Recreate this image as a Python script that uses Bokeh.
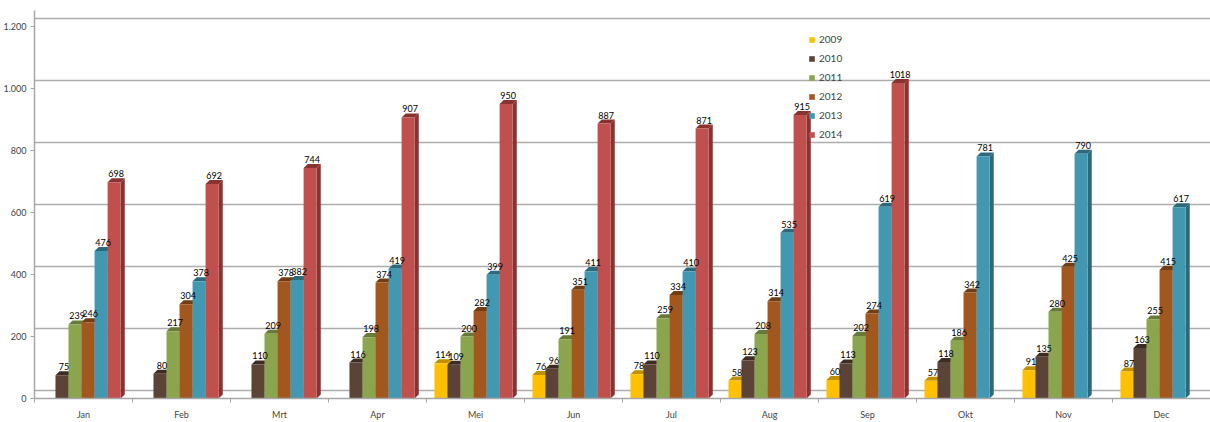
import math
from bokeh.plotting import figure
from bokeh.models import (Range1d, FixedTicker, Grid, Legend, LegendItem,
                          ColumnDataSource)
from bokeh.core.properties import value
from bokeh.embed import file_html
from bokeh.resources import INLINE

months = ["Jan", "Feb", "Mrt", "Apr", "Mei", "Jun", "Jul", "Aug", "Sep", "Okt", "Nov", "Dec"]
years = ["2009", "2010", "2011", "2012", "2013", "2014"]
nan = float("nan")
v2009 = [nan, nan, nan, nan, 114, 76, 78, 58, 60, 57, 91, 87]
v2010 = [75, 80, 110, 116, 109, 96, 110, 123, 113, 118, 135, 163]
v2011 = [239, 217, 209, 198, 200, 191, 259, 208, 202, 186, 280, 255]
v2012 = [246, 304, 378, 374, 282, 351, 334, 314, 274, 342, 425, 415]
v2013 = [476, 378, 382, 419, 399, 411, 410, 535, 619, 781, 790, 617]
v2014 = [698, 692, 744, 907, 950, 887, 871, 915, 1018, nan, nan, nan]
series = [v2009, v2010, v2011, v2012, v2013, v2014]
y_ticks = [0, 200, 400, 600, 800, 1000, 1200]

front_colors = ["#FFC000", "#5B4337", "#8BA54E", "#A2571F", "#4298B0", "#C0504D"]
dark_colors = ["#C09000", "#3D2C24", "#677A38", "#733D14", "#2C6A7B", "#8A3230"]

FONT = "Lato"
p = figure(width=1210, height=422, x_range=Range1d(-0.5, 11.5), y_range=Range1d(0, 1252),
           output_backend="svg", toolbar_location=None,
           min_border_left=34, min_border_right=0, min_border_top=10, min_border_bottom=18)
p.outline_line_color = None
p.background_fill_color = "white"
p.border_fill_color = "white"
p.xgrid.visible = False
p.ygrid.visible = False

p.extra_y_ranges = {"back": Range1d(-27, 1225)}
p.add_layout(Grid(dimension=1, ticker=FixedTicker(ticks=y_ticks), y_range_name="back",
                  grid_line_color="#ADADAD", grid_line_width=1.4))

bw = 0.133
dx = 0.042
dy = 13.0
n = len(series)
legend_items = []
label_sources = []
for j, vals in enumerate(series):
    xs, ys, labs = [], [], []
    side_x, side_y, top_x, top_y = [], [], [], []
    for i, v in enumerate(vals):
        if isinstance(v, float) and math.isnan(v):
            continue
        xc = i + (j - (n - 1) / 2) * bw - 0.02
        x0, x1 = xc - bw / 2, xc + bw / 2
        xs.append(xc)
        ys.append(v)
        labs.append(str(v))
        side_x.append([x1, x1 + dx, x1 + dx, x1])
        side_y.append([0, dy, v + dy, v])
        top_x.append([x0, x1, x1 + dx, x0 + dx])
        top_y.append([v, v, v + dy, v + dy])
    p.patches(side_x, side_y, fill_color=dark_colors[j], line_color=None)
    p.patches(top_x, top_y, fill_color=dark_colors[j], line_color=None)
    src = ColumnDataSource(dict(x=xs, top=ys, lab=labs))
    r = p.vbar(x="x", top="top", bottom=0, width=bw, source=src,
               fill_color=front_colors[j], line_color=None)
    legend_items.append(LegendItem(label=years[j], renderers=[r]))
    label_sources.append(src)

for src in label_sources:
    p.text(x="x", y="top", text="lab", source=src, x_offset=2, y_offset=-5,
           text_align="center", text_baseline="bottom", text_font=value(FONT),
           text_font_size="9px", text_color="black")

# axes
yax = p.yaxis[0]
yax.ticker = FixedTicker(ticks=y_ticks)
yax.major_label_overrides = {1000: "1.000", 1200: "1.200"}
yax.axis_line_color = "#A6A6A6"
yax.axis_line_width = 1.5
yax.major_tick_line_color = "#A6A6A6"
yax.major_tick_out = 4
yax.major_tick_in = 0
yax.minor_tick_line_color = None
yax.major_label_text_font = FONT
yax.major_label_text_font_size = "9px"
yax.major_label_standoff = 4

xax = p.xaxis[0]
xax.ticker = FixedTicker(ticks=list(range(12)), minor_ticks=[i - 0.5 for i in range(13)])
xax.major_label_overrides = {i: m for i, m in enumerate(months)}
xax.axis_line_color = "#A6A6A6"
xax.axis_line_width = 1.5
xax.major_tick_line_color = None
xax.minor_tick_line_color = "#A6A6A6"
xax.minor_tick_out = 4
xax.minor_tick_in = 0
xax.major_label_text_font = FONT
xax.major_label_text_font_size = "9px"
xax.major_label_standoff = 4

legend = Legend(items=legend_items, location=(774, 258), orientation="vertical",
                glyph_width=7, glyph_height=7, label_height=12, spacing=7,
                padding=0, margin=0, background_fill_alpha=0, border_line_color=None,
                label_text_font=FONT, label_text_font_size="10px", label_standoff=4)
p.add_layout(legend)

open("out.html", "w").write(file_html(p, INLINE))
